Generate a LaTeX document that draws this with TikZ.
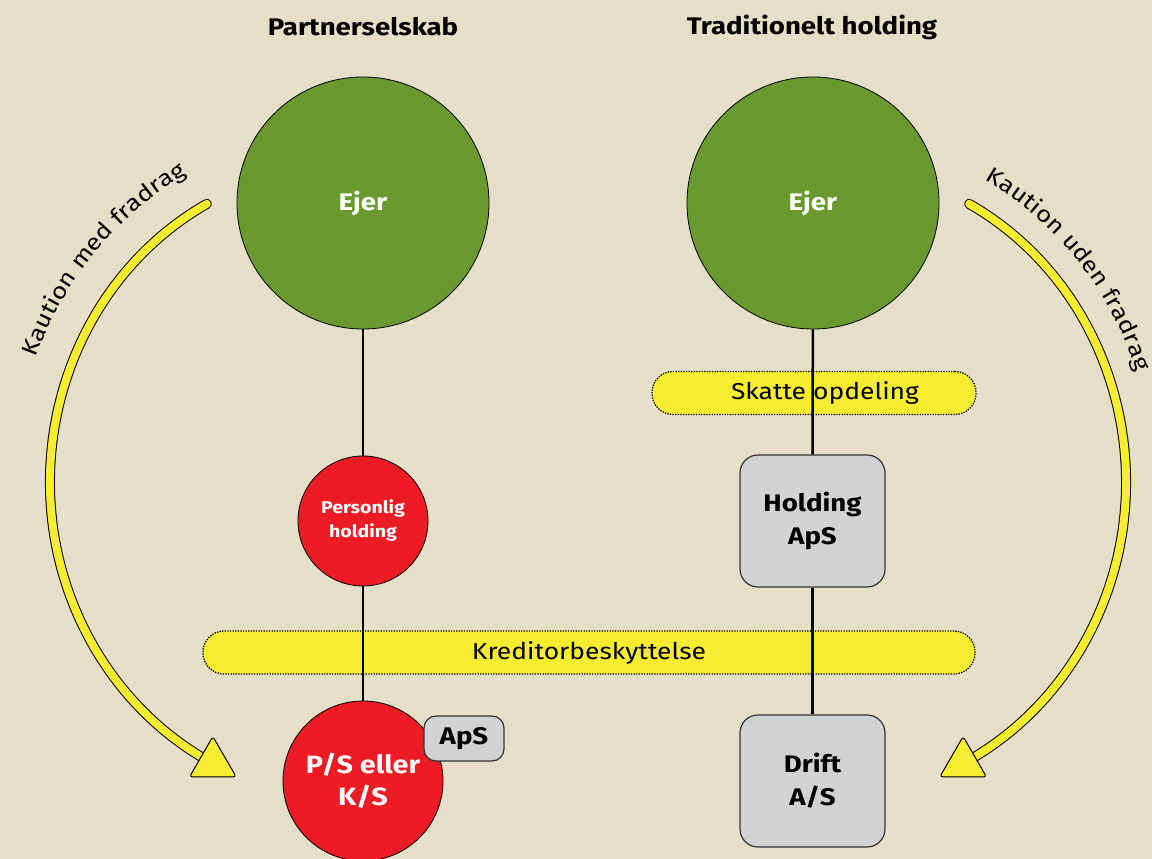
\documentclass[tikz,border=0pt]{standalone}
\usepackage{fontspec}
\setmainfont{Fira Sans}[FakeStretch=1.15]
\usetikzlibrary{calc,decorations.text}
\definecolor{bg}{HTML}{E5DFC8}
\definecolor{grn}{HTML}{6A9A2F}
\definecolor{rd}{HTML}{ED1C24}
\definecolor{yl}{HTML}{F8EC30}
\definecolor{gry}{HTML}{D1D2D4}
\begin{document}
\begin{tikzpicture}[x=1pt,y=1pt,
 title/.style={font=\fontsize{24}{28}\selectfont\bfseries},
 ejer/.style={circle, fill=grn, draw=black, line width=0.8pt, minimum size=252pt, inner sep=0pt, text=white, font=\fontsize{24}{30}\selectfont\bfseries},
 redc/.style={circle, fill=rd, draw=black, line width=0.8pt, inner sep=0pt, text=white, align=center},
 box/.style={rectangle, rounded corners=18pt, fill=gry, draw=black!80, line width=1.2pt, align=center, font=\fontsize{24}{33}\selectfont\bfseries},
 bar/.style={rectangle, rounded corners=21pt, fill=yl, draw=black, line width=1.3pt, dash pattern=on 1.3pt off 1.3pt, minimum height=43pt, inner sep=0pt, font=\fontsize{23}{27}\selectfont},
 link/.style={line width=2.5pt, black},
 band/.style={draw=black, line width=1pt, double=yl, double distance=8pt, line cap=round},
 head/.style={fill=yl, draw=black, line width=1pt, rounded corners=3pt, line join=round}
]
\fill[bg] (0,0) rectangle (1152,859);
\useasboundingbox (0,0) rectangle (1152,859);

% titles
\node[title] (t1) at (363,832) {Partnerselskab};
\node[title] (t2) at (812,832) {Traditionelt holding};

% bars
\node[bar, minimum width=772pt] (kred) at (589,206.5) {Kreditorbeskyttelse};
\node[bar, minimum width=324pt] (skat) at (814,466) {\hspace*{22pt}Skatte opdeling};

% nodes
\node[ejer] (ejerL) at (363,656) {Ejer};
\node[ejer] (ejerR) at (813,656) {Ejer};
\node[redc, minimum size=130pt, font=\fontsize{17}{24}\selectfont\bfseries] (persL) at (363,338) {Personlig\\holding};
\node[redc, minimum size=160pt, font=\fontsize{25}{32}\selectfont\bfseries] (psL) at (363,78) {P/S eller\\K/S};
\node[box, minimum width=145pt, minimum height=132pt] (holdR) at (812.5,338) {Holding\\ApS};
\node[box, minimum width=145pt, minimum height=132pt] (driftR) at (812.5,78) {Drift\\A/S};
\node[box, rounded corners=12pt, minimum width=80pt, minimum height=45pt, inner sep=0pt] (apsL) at (464,120.5) {ApS};

% connectors
\draw[link] (ejerL) -- (persL);
\draw[link] (persL) -- (psL);
\draw[link] (ejerR) -- (holdR);
\draw[link] (holdR) -- (driftR);

% curved arrows
\coordinate (cL) at (350,377);
\coordinate (cR) at (826,377);
\coordinate (tailL) at ($(cL)+(118.5:300pt and 316.5pt)$);
\coordinate (tailR) at ($(cR)+(61.5:300pt and 316.5pt)$);
\draw[band] (tailL) arc[start angle=118.5, end angle=242.8, x radius=300pt, y radius=316.5pt] coordinate (endL);
\draw[head] ($(endL)+(90:27pt)$) -- ($(endL)+(210:27pt)$) -- ($(endL)+(330:27pt)$) -- cycle;
\draw[band] (tailR) arc[start angle=61.5, end angle=-62.8, x radius=300pt, y radius=316.5pt] coordinate (endR);
\draw[head] ($(endR)+(90:27pt)$) -- ($(endR)+(210:27pt)$) -- ($(endR)+(330:27pt)$) -- cycle;

% labels along the arrows
\path[decorate, decoration={text along path, text={|\fontsize{22.5}{27}\selectfont|Kaution med fradrag}, text align=center}]
  ($(cL)+(169:336pt and 352pt)$) arc[start angle=169, end angle=109, x radius=336pt, y radius=352pt];
\path[decorate, decoration={text along path, text={|\fontsize{22.5}{27}\selectfont|Kaution uden fradrag}, text align=center}]
  ($(cR)+(70:328pt and 345pt)$) arc[start angle=70, end angle=10, x radius=328pt, y radius=345pt];
\end{tikzpicture}
\end{document}
